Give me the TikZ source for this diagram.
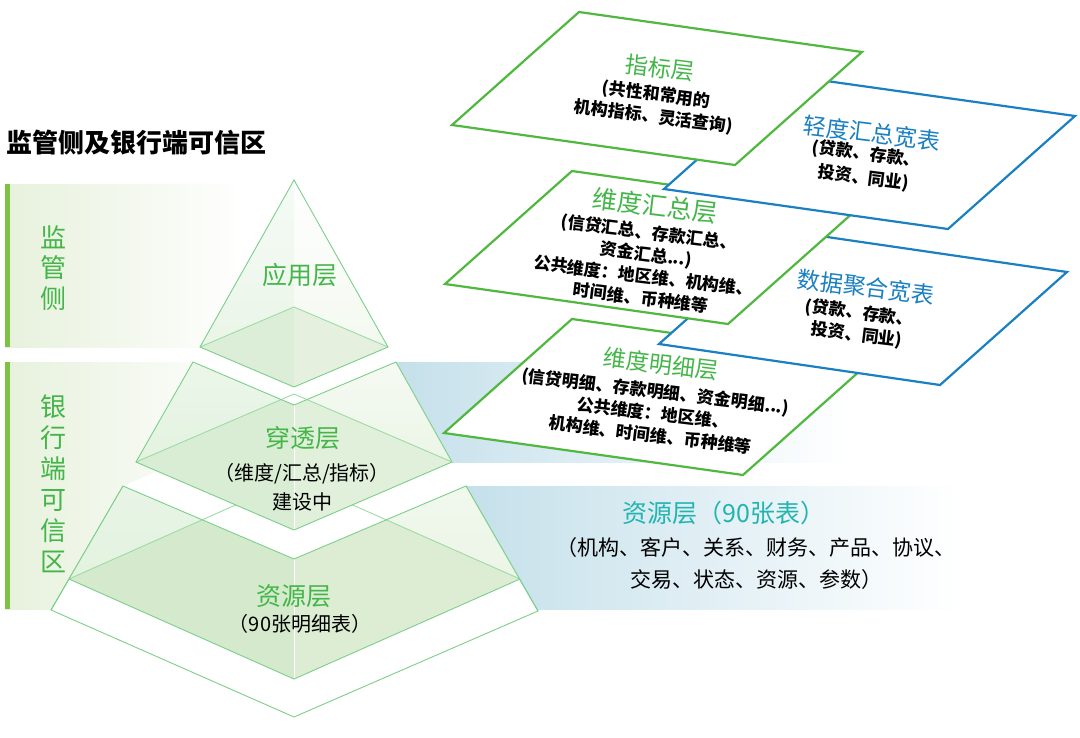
\documentclass[tikz,border=0pt]{standalone}
\usepackage{fontspec}
\setmainfont{Noto Sans CJK SC}
\definecolor{lvse}{HTML}{44B649}
\definecolor{lanse}{HTML}{1A80C1}
\definecolor{qingse}{HTML}{22B5B0}
\definecolor{kuang}{HTML}{50B83F}
\definecolor{taline}{HTML}{7CCF8A}
\definecolor{taface}{HTML}{E6F2DF}
\definecolor{tabase}{HTML}{DCEDD3}
\definecolor{barfill}{HTML}{E7F1DC}
\definecolor{barline}{HTML}{7DC243}
\definecolor{band}{HTML}{C3DFEA}
\newcommand{\setsz}[2]{\fontsize{#1}{#2}\selectfont}
\tikzstyle{pingmian}=[line width=2.2pt,fill=white,line join=miter]
\tikzstyle{lvkuang}=[pingmian,draw=kuang]
\tikzstyle{lankuang}=[pingmian,draw=lanse]
\tikzstyle{taxian}=[draw=taline,line width=0.9pt,line join=miter]
\tikzstyle{beixian}=[draw=taline!75,line width=0.9pt]
\tikzstyle{zuoban}=[fill=taline,opacity=.07]
\tikzstyle{biaoti}=[inner sep=0pt,rotate=-7,font=\setsz{23}{23}]
\tikzstyle{shuoming}=[inner sep=0pt,rotate=-7,align=center,font=\bfseries\setsz{17}{22}]
\tikzstyle{wenzi}=[inner sep=0pt,align=center]
\begin{document}
\begin{tikzpicture}[x=1pt,y=-1pt]
  \useasboundingbox (0,0) rectangle (1080,737);

  \shade[left color=barfill,right color=white] (5,184) rectangle (245,347);
  \shade[left color=barfill,right color=white] (5,362) rectangle (245,609);
  \fill[barline] (5,184) rectangle (10,347);
  \fill[barline] (5,362) rectangle (10,609);
  \shade[left color=band,right color=white] (380,362) rectangle (850,462);
  \shade[left color=band,right color=white] (450,486) rectangle (960,609);

  \coordinate (A) at (294,180);
  \coordinate (L1) at (200,347); \coordinate (R1) at (388,347);
  \coordinate (F1) at (294,387); \coordinate (B1) at (294,307);
  \coordinate (L2) at (193,362); \coordinate (R2) at (396,362);
  \coordinate (F2) at (294,405); \coordinate (B2) at (294,319);
  \coordinate (L3) at (136,462); \coordinate (R3) at (452,462);
  \coordinate (F3) at (294,530); \coordinate (B3) at (294,394);
  \coordinate (L4) at (123,486); \coordinate (R4) at (466,486);
  \coordinate (F4) at (294,559); \coordinate (B4) at (294,413);
  \coordinate (L5) at (69,579);  \coordinate (R5) at (520,579);
  \coordinate (F5) at (294,679); \coordinate (B5) at (294,479);
  \coordinate (L6) at (51,610);  \coordinate (R6) at (538,611);
  \coordinate (F6) at (294,717);

  \draw[taxian,fill=white] (L4) -- (L6) -- (F6) -- (R6) -- (R4);
  \shade[top color=taface!55,bottom color=taface]
    (L4) -- (F4) -- (R4) -- (R5) -- (F5) -- (L5) -- cycle;
  \begin{scope}
    \clip (L4) -- (F4) -- (R4) -- (R5) -- (F5) -- (L5) -- cycle;
    \fill[tabase] (L5) -- (F5) -- (R5) -- (B5) -- cycle;
    \fill[zuoban] (L4) -- (F4) -- (F5) -- (L5) -- cycle;
  \end{scope}
  \fill[white] (L4) -- (F4) -- (R4) -- (B4) -- cycle;
  \draw[beixian] (L5) -- (B5) -- (R5);
  \draw[white,line width=1pt] (F4) -- (F5);
  \draw[taxian] (L4) -- (F4) -- (R4) -- (R6) (L4) -- (L6) (L5) -- (F5) -- (R5);

  \shade[top color=taface!40,bottom color=taface]
    (L2) -- (F2) -- (R2) -- (R3) -- (F3) -- (L3) -- cycle;
  \begin{scope}
    \clip (L2) -- (F2) -- (R2) -- (R3) -- (F3) -- (L3) -- cycle;
    \fill[tabase!85] (L3) -- (F3) -- (R3) -- (B3) -- cycle;
    \fill[zuoban] (L2) -- (F2) -- (F3) -- (L3) -- cycle;
  \end{scope}
  \fill[white] (L2) -- (F2) -- (R2) -- (B2) -- cycle;
  \draw[beixian] (L3) -- (B3) -- (R3);
  \draw[white,line width=1pt] (F2) -- (F3);
  \draw[taxian] (L2) -- (F2) -- (R2) -- (R3) -- (F3) -- (L3) -- cycle;

  \shade[top color=white,bottom color=taface!60] (A) -- (L1) -- (F1) -- (R1) -- cycle;
  \fill[tabase!75] (L1) -- (F1) -- (R1) -- (B1) -- cycle;
  \fill[zuoban] (A) -- (L1) -- (F1) -- cycle;
  \draw[beixian] (L1) -- (B1) -- (R1);
  \draw[taxian] (A) -- (L1) -- (F1) -- (R1) -- cycle;

  \draw[lvkuang] (572,319) -- (871,361) -- (743,475) -- (444,433) -- cycle;
  \node[biaoti,text=lvse] (mingxi) at (661,364) {维度明细层};
  \node[shuoming] (mingxiSm) at (653,413)
    {(信贷明细、存款明细、资金明细...)\\公共维度：地区维、\\机构维、时间维、币种维等};

  \draw[lankuang] (786,231) -- (1067,272) -- (940,385) -- (659,344) -- cycle;
  \node[biaoti,text=lanse] (juhe) at (866,287) {数据聚合宽表};
  \node[shuoming] (juheSm) at (858,324) {(贷款、存款、\\投资、同业)};

  \draw[lvkuang] (572,171) -- (855,211) -- (728,324) -- (445,284) -- cycle;
  \node[biaoti,text=lvse,font=\setsz{25}{25}] (huizong) at (655,206) {维度汇总层};
  \node[shuoming] (huizongSm) at (645,265)
    {(信贷汇总、存款汇总、\\资金汇总...)\\公共维度：地区维、机构维、\\时间维、币种维等};

  \draw[lankuang] (791,76) -- (1075,116) -- (948,229) -- (664,189) -- cycle;
  \node[biaoti,text=lanse] (qingdu) at (872,133) {轻度汇总宽表};
  \node[shuoming,font=\bfseries\setsz{17}{24}] (qingduSm) at (865,166) {(贷款、存款、\\投资、同业)};

  \draw[lvkuang] (579,12) -- (862,52) -- (735,165) -- (452,125) -- cycle;
  \node[biaoti,text=lvse] (zhibiao) at (660,68) {指标层};
  \node[shuoming] (zhibiaoSm) at (655,106) {(共性和常用的\\机构指标、灵活查询)};

  \node[wenzi,anchor=west,font=\bfseries\setsz{26}{26}] (biaoti) at (6,143) {监管侧及银行端可信区};
  \node[wenzi,text=lvse,font=\setsz{26}{30.5}] (jianguan) at (53,268) {监\\管\\侧};
  \node[wenzi,text=lvse,font=\setsz{26}{31}] (yinhang) at (53,484) {银\\行\\端\\可\\信\\区};

  \node[wenzi,text=lvse,font=\setsz{25}{25}] (yingyong) at (300,275) {应用层};
  \node[wenzi,text=lvse,font=\setsz{25}{25}] (chuantou) at (303,438) {穿透层};
  \node[wenzi,font=\setsz{20}{29}] (chuantouSm) at (302,487) {（维度/汇总/指标）\\建设中};
  \node[wenzi,text=lvse,font=\setsz{25}{25}] (ziyuanTa) at (294,596) {资源层};
  \node[wenzi,font=\setsz{20}{20}] (ziyuanTaSm) at (300,624) {（90张明细表）};

  \node[wenzi,text=qingse,font=\setsz{25}{25}] (ziyuan) at (724,513) {资源层（90张表）};
  \node[wenzi,font=\setsz{21}{32}] (ziyuanSm) at (756,564)
    {（机构、客户、关系、财务、产品、协议、\\交易、状态、资源、参数）};
\end{tikzpicture}
\end{document}
